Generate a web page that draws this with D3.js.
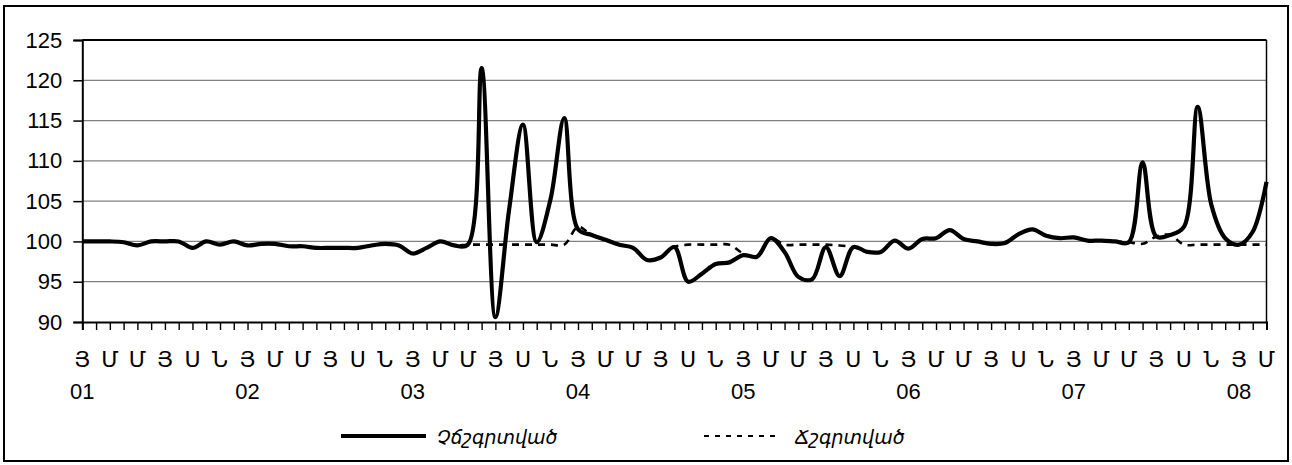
<!DOCTYPE html>
<html>
<head>
<meta charset="utf-8">
<script src="https://cdn.jsdelivr.net/npm/d3@7"></script>
<style>
  body { margin: 0; background: #fff; }
  svg { display: block; }
</style>
</head>
<body>
<svg id="chart" width="1292" height="465"></svg>
<script>
// Month initials shown every second month (Jan, Mar, May, Jul, Sep, Nov)
const monthLetters = ['Յ', 'Մ', 'Մ', 'Յ', 'Ս', 'Ն'];
const yearLabels = ['01', '02', '03', '04', '05', '06', '07', '08'];
const yTicks = [90, 95, 100, 105, 110, 115, 120, 125];
const seriesNames = ['Չճշգրտված', 'Ճշգրտված'];

// Monthly index values, January 2001 – March 2008
const unadjusted = [
  100.0, 100.0, 100.0, 99.9, 99.5, 100.0, 100.0, 100.0, 99.2, 100.0, 99.6, 100.0,
  99.5, 99.7, 99.7, 99.4, 99.4, 99.2, 99.2, 99.2, 99.2, 99.5, 99.7, 99.5,
  98.5, 99.2, 100.0, 99.5, 99.6, 121.5, 90.6, 104.0, 114.5, 99.9, 105.2, 115.3,
  101.5, 100.8, 100.2, 99.6, 99.2, 97.7, 98.0, 99.3, 95.0, 96.0, 97.2, 97.4,
  98.3, 98.1, 100.4, 98.7, 95.6, 95.3, 99.3, 95.7, 99.3, 98.7, 98.7, 100.1,
  99.1, 100.3, 100.4, 101.4, 100.3, 100.0, 99.7, 99.8, 100.9, 101.5, 100.7, 100.4,
  100.5, 100.1, 100.1, 100.0, 99.9, 109.8, 100.6, 100.8, 101.8, 116.7, 104.5, 100.4,
  99.6, 101.2, 107.4
];
const adjusted = [
  100.0, 100.0, 100.0, 99.9, 99.5, 100.0, 100.0, 100.0, 99.2, 100.0, 99.6, 100.0,
  99.5, 99.7, 99.7, 99.4, 99.4, 99.2, 99.2, 99.2, 99.2, 99.5, 99.7, 99.5,
  98.5, 99.2, 100.0, 99.5, 99.6, 99.6, 99.6, 99.6, 99.6, 99.6, 99.6, 99.6,
  101.8, 100.8, 100.2, 99.6, 99.2, 97.7, 98.0, 99.3, 99.6, 99.6, 99.6, 99.6,
  98.5, 98.1, 100.4, 99.6, 99.6, 99.6, 99.6, 99.5, 99.3, 98.7, 98.7, 100.1,
  99.1, 100.3, 100.4, 101.4, 100.3, 100.0, 99.7, 99.8, 100.9, 101.5, 100.7, 100.4,
  100.5, 100.1, 100.1, 100.0, 99.9, 99.7, 100.6, 100.8, 99.6, 99.6, 99.6, 99.6,
  99.6, 99.6, 99.6
];

const svg = d3.select('#chart');
const plot = { left: 82.3, right: 1266.5, top: 40, bottom: 322 };
const n = unadjusted.length;

const x = d3.scaleLinear().domain([0, n - 1]).range([plot.left, plot.right]);
const y = d3.scaleLinear().domain([90, 125]).range([plot.bottom, plot.top]);

const numFont = '"Liberation Sans", Arial, sans-serif';
const armFont = '"DejaVu Sans", sans-serif';

// outer frame
svg.append('rect')
  .attr('x', 4).attr('y', 6).attr('width', 1284).attr('height', 455)
  .attr('fill', '#fff').attr('stroke', '#000').attr('stroke-width', 2);

// horizontal gridlines
svg.append('g')
  .selectAll('line')
  .data(yTicks.filter(v => v > 90 && v < 125))
  .join('line')
  .attr('x1', plot.left).attr('x2', plot.right)
  .attr('y1', d => y(d)).attr('y2', d => y(d))
  .attr('stroke', '#808080').attr('stroke-width', 1.2);

// plot-area border (top and right)
svg.append('line')
  .attr('x1', plot.left).attr('x2', plot.right)
  .attr('y1', y(125)).attr('y2', y(125))
  .attr('stroke', '#000').attr('stroke-width', 2);
svg.append('line')
  .attr('x1', plot.right).attr('x2', plot.right)
  .attr('y1', y(125)).attr('y2', y(90))
  .attr('stroke', '#000').attr('stroke-width', 1.5);

// y axis
const yAxis = svg.append('g')
  .attr('transform', `translate(${plot.left},0)`)
  .call(d3.axisLeft(y).tickValues(yTicks).tickSize(9).tickPadding(11).tickFormat(d3.format('d')));
yAxis.select('.domain').attr('stroke', '#000').attr('stroke-width', 2);
yAxis.selectAll('.tick line').attr('stroke', '#000').attr('stroke-width', 1.5);
yAxis.selectAll('.tick text')
  .attr('font-family', numFont).attr('font-size', 22).attr('fill', '#000');

// x axis: a tick every month
const idx = d3.range(n);
const xAxis = svg.append('g')
  .attr('transform', `translate(0,${plot.bottom})`)
  .call(d3.axisBottom(x).tickValues(idx).tickSize(8).tickFormat(''));
xAxis.select('.domain').attr('stroke', '#000').attr('stroke-width', 2);
xAxis.selectAll('.tick line').attr('stroke', '#000').attr('stroke-width', 1.4);

// month initials, every second month
const letterIdx = idx.filter(i => i % 2 === 0);
svg.append('g')
  .selectAll('text')
  .data(letterIdx)
  .join('text')
  .attr('x', i => x(i))
  .attr('y', 367)
  .attr('text-anchor', 'middle')
  .attr('font-family', armFont)
  .attr('font-size', 22)
  .text(i => monthLetters[(i / 2) % 6]);

// year labels under each January
const yearIdx = idx.filter(i => i % 12 === 0);
svg.append('g')
  .selectAll('text')
  .data(yearIdx)
  .join('text')
  .attr('x', i => x(i))
  .attr('y', 399)
  .attr('text-anchor', 'middle')
  .attr('font-family', numFont)
  .attr('font-size', 22)
  .text(i => yearLabels[i / 12]);

// series lines, smoothed
const line = d3.line()
  .x((d, i) => x(i))
  .y(d => y(d))
  .curve(d3.curveCatmullRom.alpha(0.5));

svg.append('path')
  .datum(unadjusted)
  .attr('d', line)
  .attr('fill', 'none')
  .attr('stroke', '#000')
  .attr('stroke-width', 4.2)
  .attr('stroke-linejoin', 'round');

svg.append('path')
  .datum(adjusted)
  .attr('d', line)
  .attr('fill', 'none')
  .attr('stroke', '#000')
  .attr('stroke-width', 2.6)
  .attr('stroke-dasharray', '7,6');

// legend
const legend = svg.append('g');
legend.append('line')
  .attr('x1', 341).attr('x2', 426).attr('y1', 436).attr('y2', 436)
  .attr('stroke', '#000').attr('stroke-width', 4);
legend.append('text')
  .attr('x', 437).attr('y', 444)
  .attr('font-family', armFont).attr('font-style', 'italic').attr('font-size', 19)
  .text(seriesNames[0]);
legend.append('line')
  .attr('x1', 704).attr('x2', 780).attr('y1', 436).attr('y2', 436)
  .attr('stroke', '#000').attr('stroke-width', 2).attr('stroke-dasharray', '5,6');
legend.append('text')
  .attr('x', 795).attr('y', 444)
  .attr('font-family', armFont).attr('font-style', 'italic').attr('font-size', 19)
  .text(seriesNames[1]);
</script>
</body>
</html>
